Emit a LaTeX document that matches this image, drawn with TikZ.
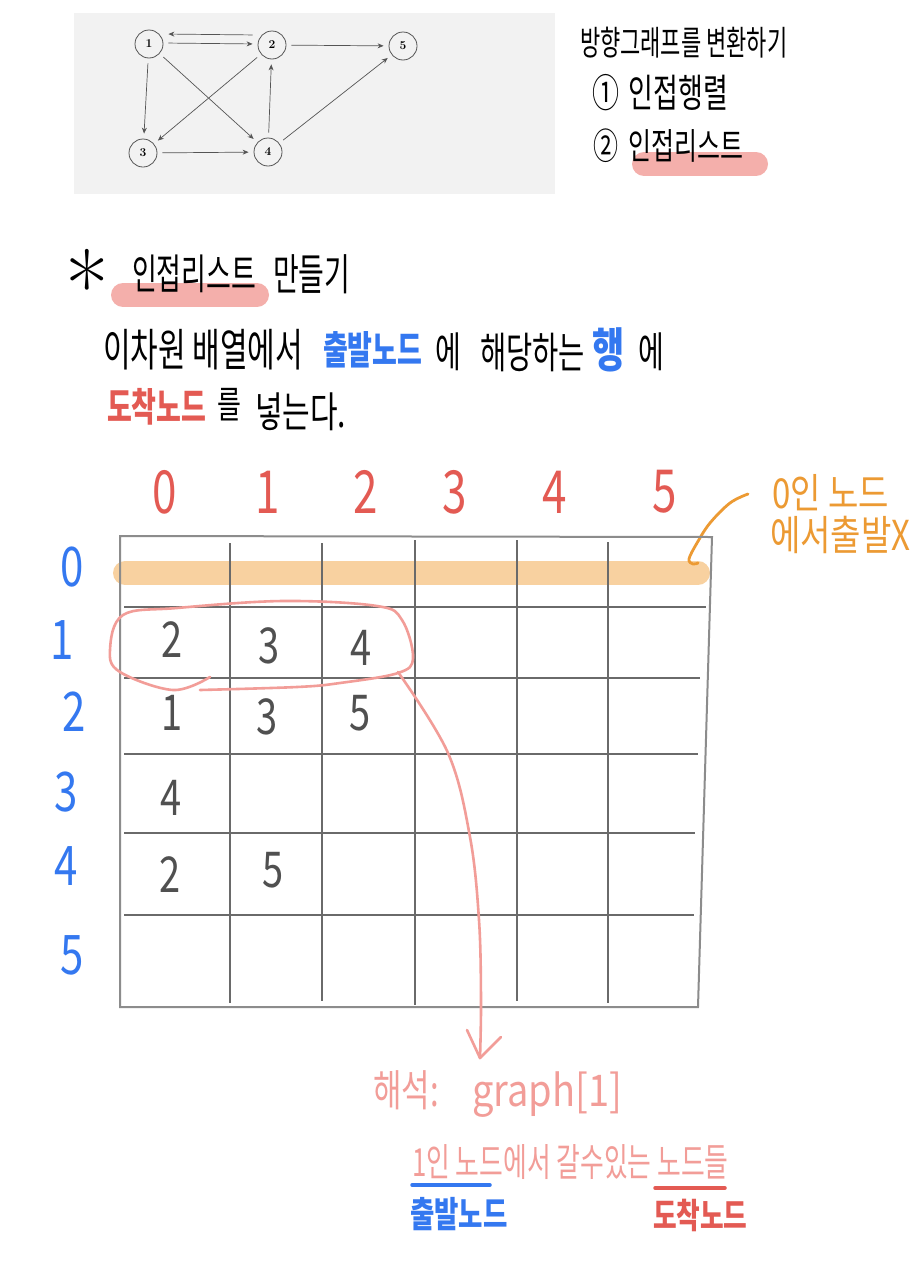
\documentclass[tikz,border=0pt]{standalone}
\usepackage{fontspec}
\newfontfamily\kr{Noto Sans CJK KR}
\usetikzlibrary{arrows.meta}
\newcommand\hw[3]{\scalebox{1}[#2]{\fontsize{#1}{#1}\selectfont #3}}
\definecolor{cblue}{HTML}{3478F0}
\definecolor{cred}{HTML}{E35A53}
\definecolor{cpink}{HTML}{F29D98}
\definecolor{chl}{HTML}{F4AFAB}
\definecolor{cband}{HTML}{F8D1A0}
\definecolor{corange}{HTML}{EC9A33}
\definecolor{cdig}{HTML}{505050}
\definecolor{cpanel}{HTML}{F2F2F2}
\definecolor{cgrid}{HTML}{6A6A6A}
\definecolor{cborder}{HTML}{8C8C8C}
\definecolor{cedge}{HTML}{555555}
\begin{document}
\begin{tikzpicture}[x=1pt,y=-1pt,
  txt/.style={inner sep=0pt,outer sep=0pt,font=\kr},
  gnode/.style={circle,draw=cedge,line width=0.8pt,fill=cpanel,minimum size=28pt,inner sep=0pt,font=\bfseries\fontsize{12}{12}\selectfont},
  garrow/.style={draw=cedge,line width=0.7pt,-{Stealth[length=6pt,width=5pt]},shorten >=5pt,shorten <=5pt},
  hlbar/.style={draw=chl,line width=24pt,line cap=round},
  gridline/.style={draw=cgrid,line width=1.2pt},
  colnum/.style={txt,text=cred},
  rownum/.style={txt,text=cblue},
  cellnum/.style={txt,text=cdig},
  pinkpen/.style={draw=cpink,line width=2.6pt,line cap=round,line join=round}]
\fill[white] (0,0) rectangle (921,1277);
\useasboundingbox (0,0) rectangle (921,1277);

% ---------- graph panel ----------
\fill[cpanel] (74,13) rectangle (555,194);
\node[gnode] (n1) at (149,44) {1};
\node[gnode] (n2) at (272,45) {2};
\node[gnode] (n5) at (403,46) {5};
\node[gnode] (n3) at (143,153) {3};
\node[gnode] (n4) at (268,152) {4};
\draw[garrow] ([yshift=10pt]n2.west) -- ([yshift=10pt]n1.east);
\draw[garrow] ([yshift=1pt]n1.east) -- ([yshift=1pt]n2.west);
\draw[garrow] (n2) -- (n5);
\draw[garrow] (n1) -- (n3);
\draw[garrow] (n1) -- (n4);
\draw[garrow] (n2) -- (n3);
\draw[garrow] (n4) -- (n2);
\draw[garrow] (n3) -- (n4);
\draw[garrow] (n4) -- (n5);

% ---------- right notes ----------
\node[txt,anchor=west] (title) at (580,43) {\hw{22}{1.55}{방향그래프를 변환하기}};
\draw[hlbar] (644,164) -- (756,164);
\node[txt,anchor=west] (item1) at (592,93) {\hw{27}{1.45}{①\hspace{10pt}인접행렬}};
\node[txt,anchor=west] (item2) at (593,146) {\hw{25}{1.45}{②\hspace{10pt}인접리스트}};

% ---------- heading ----------
\draw[hlbar] (123,295) -- (257,295);
\node[txt,font=\rmfamily] (star) at (87,285) {\hw{95}{1}{*}};
\node[txt,anchor=west] (mk1) at (132,274) {\hw{27}{1.55}{인접리스트}};
\node[txt,anchor=west] (mk2) at (273,274) {\hw{28}{1.55}{만들기}};

\node[txt,anchor=west] (l2a) at (103,350) {\hw{30}{1.5}{이차원 배열에서}};
\node[txt,anchor=west,text=cblue] (l2b) at (323,350) {\hw{27}{1.45}{\bfseries 출발노드}};
\node[txt,anchor=west] (l2c) at (435,352) {\hw{28}{1.5}{에}};
\node[txt,anchor=west] (l2d) at (480,352) {\hw{28.5}{1.5}{해당하는}};
\node[txt,anchor=west,text=cblue] (l2e) at (592,350) {\hw{35}{1.35}{\bfseries 행}};
\node[txt,anchor=west] (l2f) at (638,352) {\hw{28}{1.5}{에}};

\node[txt,anchor=west,text=cred] (l3a) at (107,407) {\hw{27}{1.45}{\bfseries 도착노드}};
\node[txt,anchor=west] (l3b) at (217,405) {\hw{26}{1.45}{를}};
\node[txt,anchor=west] (l3c) at (255,412) {\hw{30}{1.4}{넣는다.}};

% ---------- column / row labels ----------
\foreach \x/\t in {165/0,268/1,366/2,455/3,555/4,665/5}
  \node[colnum] (c\t) at (\x,492) {\hw{44}{1.35}{\t}};
\foreach \xx/\yy/\t in {72/567/0,62/640/1,74/712/2,66/792/3,66/866/4,72/955/5}
  \node[rownum] (r\t) at (\xx,\yy) {\hw{42}{1.3}{\t}};

% ---------- orange band and note ----------
\draw[draw=cband,line width=24pt,line cap=round] (125,573) -- (698,573);
\node[txt,anchor=west,text=corange] (o1) at (772,493) {\hw{33}{1.25}{0인 노드}};
\node[txt,anchor=west,text=corange] (o2) at (770,535) {\hw{33}{1.25}{에서출발X}};
\draw[corange,line width=2.8pt,line cap=round] plot[smooth,tension=0.6] coordinates {(748,494) (730,503) (710,523) (697,543) (689,559) (693,564) (698,563)};

% ---------- grid ----------
\foreach \x/\a/\b in {230/543/1003,322/543/1001,415/540/1005,517/540/1001,608/542/1003}
  \draw[gridline] (\x,\a) -- (\x,\b);
\foreach \y/\r in {607/706,678/700,754/698,833/695,915/694}
  \draw[gridline] (124,\y) -- (\r,\y);
\draw[draw=cborder,line width=2pt] (120,536) -- (712,537) -- (698,1007) -- (120,1007) -- cycle;

% ---------- cell values ----------
\node[cellnum] (v12) at (172,640) {\hw{38}{1.3}{2}};
\node[cellnum] (v13) at (269,646) {\hw{38}{1.3}{3}};
\node[cellnum] (v14) at (361,648) {\hw{38}{1.3}{4}};
\node[cellnum] (v21) at (172,713) {\hw{38}{1.3}{1}};
\node[cellnum] (v23) at (267,717) {\hw{38}{1.3}{3}};
\node[cellnum] (v25) at (360,713) {\hw{38}{1.3}{5}};
\node[cellnum] (v34) at (171,798) {\hw{38}{1.3}{4}};
\node[cellnum] (v42) at (170,875) {\hw{38}{1.3}{2}};
\node[cellnum] (v45) at (273,870) {\hw{38}{1.3}{5}};

% ---------- pink loop and arrow ----------
\draw[pinkpen] plot[smooth,tension=0.6] coordinates {(210,677) (173,690) (120,672) (110,650) (123,615) (177,608) (283,601) (377,606) (402,620) (413,658) (398,673) (340,683) (297,687) (200,690)};
\coordinate (tip) at (480,1058);
\draw[pinkpen] plot[smooth,tension=0.6] coordinates {(398,672) (448,753) (470,837) (479,920) (481,1000) (480,1058)};
\draw[pinkpen] (467,1030) -- (tip) -- (501,1037);

% ---------- interpretation ----------
\node[txt,anchor=west,text=cpink] (h1) at (373,1090) {\hw{31}{1.4}{해석:}};
\node[txt,anchor=west,text=cpink] (h2) at (472,1095) {\hw{38}{1.15}{graph[1]}};
\node[txt,anchor=west,text=cpink] (h3) at (412,1162) {\hw{25.8}{1.5}{1인 노드에서 갈수있는 노드들}};
\draw[cblue,line width=3.5pt,line cap=round] (412,1185) -- (490,1185);
\draw[cred,line width=3.5pt,line cap=round] (655,1188) -- (725,1188);
\node[txt,anchor=west,text=cblue] (s1) at (410,1214) {\hw{26.5}{1.35}{\bfseries 출발노드}};
\node[txt,anchor=west,text=cred] (s2) at (653,1215) {\hw{25.7}{1.35}{\bfseries 도착노드}};
\end{tikzpicture}
\end{document}
